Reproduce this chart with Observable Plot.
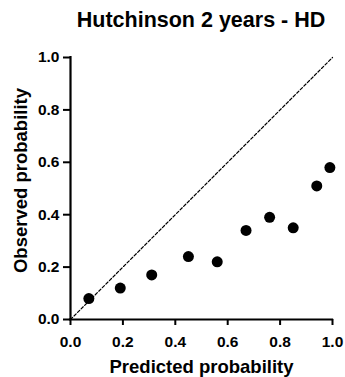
<!DOCTYPE html>
<html>
<head>
<meta charset="utf-8">
<script src="https://cdn.jsdelivr.net/npm/d3@7"></script>
<script src="https://cdn.jsdelivr.net/npm/@observablehq/plot@0.6"></script>
<style>
  html, body { margin: 0; padding: 0; background: #fff; }
  #wrap { width: 345px; height: 377px; overflow: hidden; font-family: "Liberation Sans", Arial, sans-serif; }
  #title { height: 40px; line-height: 40px; padding-left: 70px; padding-right: 13px; text-align: center; font-size: 21.5px; font-weight: bold; color: #000; white-space: nowrap; }
</style>
</head>
<body>
<div id="wrap"><div id="title"></div><div id="chart"></div></div>
<script>
const chartTitle = "Hutchinson 2 years - HD";
const xLabel = "Predicted probability";
const yLabel = "Observed probability";
const predicted = [0.07, 0.19, 0.31, 0.45, 0.56, 0.67, 0.76, 0.85, 0.94, 0.99];
const observed  = [0.08, 0.12, 0.17, 0.24, 0.22, 0.34, 0.39, 0.35, 0.51, 0.58];
const tickValues = [0, 0.2, 0.4, 0.6, 0.8, 1.0];
const tickLabels = ["0.0", "0.2", "0.4", "0.6", "0.8", "1.0"];
const diagonal = [[0, 0], [1, 1]];

const points = predicted.map((p, i) => ({predicted: p, observed: observed[i]}));
const fmt = d => tickLabels[tickValues.indexOf(d)];

document.getElementById("title").textContent = chartTitle;

const chart = Plot.plot({
  width: 345,
  height: 337,
  marginLeft: 70,
  marginRight: 13,
  marginTop: 17,
  marginBottom: 58,
  x: {domain: [0, 1]},
  y: {domain: [0, 1]},
  style: {fontFamily: "'Liberation Sans', Arial, sans-serif", color: "#000", background: "#fff", overflow: "visible"},
  marks: [
    Plot.line(diagonal, {x: d => d[0], y: d => d[1], stroke: "#000", strokeWidth: 1.2, strokeDasharray: "3,2"}),
    Plot.ruleX([0], {y1: 0, y2: 1, stroke: "#000", strokeWidth: 2.2, strokeLinecap: "square"}),
    Plot.ruleY([0], {x1: 0, x2: 1, stroke: "#000", strokeWidth: 2.2, strokeLinecap: "square"}),
    Plot.axisX(tickValues, {tickFormat: fmt, tickSize: 6, tickPadding: 10, fontSize: 15.5, fontWeight: "bold", strokeWidth: 2, label: null}),
    Plot.axisY(tickValues, {tickFormat: fmt, tickSize: 7, tickPadding: 4, fontSize: 15.5, fontWeight: "bold", strokeWidth: 2, label: null}),
    Plot.text([xLabel], {frameAnchor: "bottom", textAnchor: "middle", dy: 53, fontSize: 18.5, fontWeight: "bold", fill: "#000"}),
    Plot.text([yLabel], {frameAnchor: "left", textAnchor: "middle", dx: -49, dy: -8, rotate: -90, fontSize: 18.5, fontWeight: "bold", fill: "#000"}),
    Plot.dot(points, {x: "predicted", y: "observed", r: 5.5, fill: "#000", stroke: "none"})
  ]
});
document.getElementById("chart").appendChild(chart);
</script>
</body>
</html>
